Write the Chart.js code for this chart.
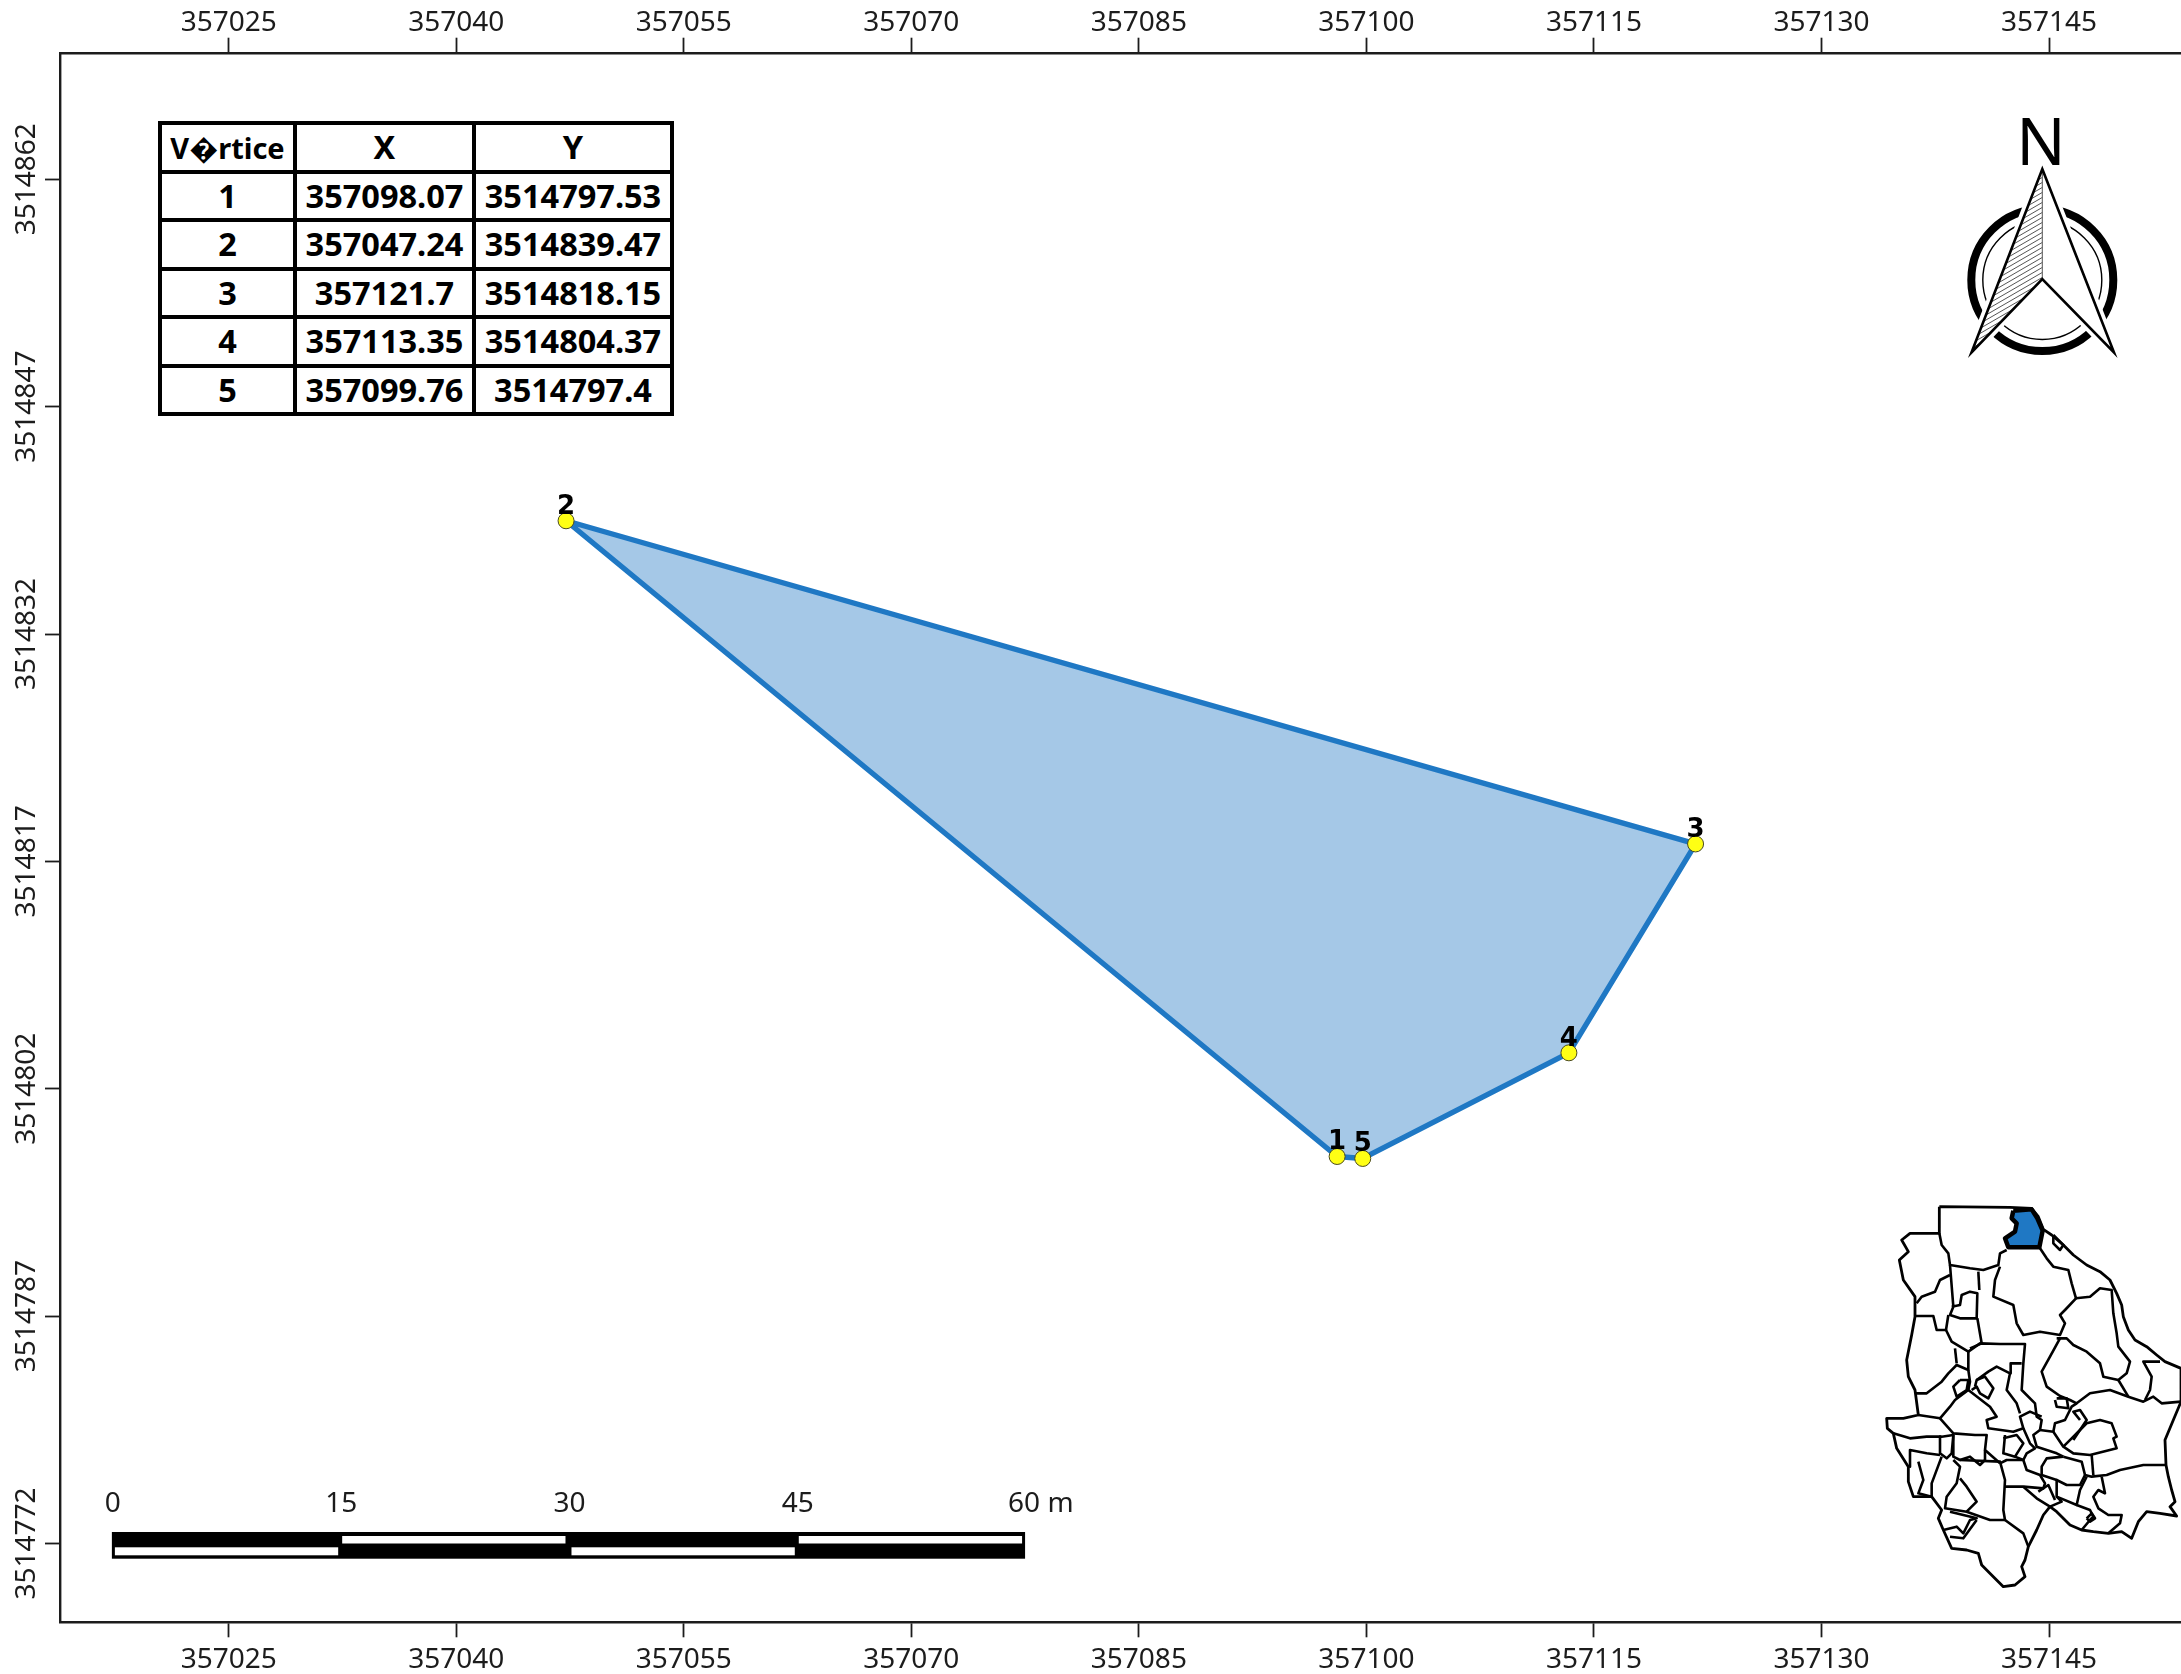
<!DOCTYPE html>
<html>
<head>
<meta charset="utf-8">
<title>Poligono</title>
<script src="https://cdn.jsdelivr.net/npm/chart.js@4/dist/chart.umd.min.js"></script>
<style>
  html, body { margin: 0; padding: 0; background: #fff; overflow: hidden; }
  #wrap { position: relative; width: 2181px; height: 1674px; }
  #mapa { position: absolute; left: 0; top: 0; }
  #inset { position: absolute; left: 1860px; top: 1190px; }
  #tabla {
    position: absolute; left: 158px; top: 121px; width: 512px; height: 291px;
    border-collapse: collapse; table-layout: fixed; background: #fff;
    font: 700 32.5px "Noto Sans", sans-serif; color: #000;
  }
  #tabla td {
    border: 4px solid #000; text-align: center; padding: 0; height: 48.5px;
    box-sizing: border-box; line-height: 1; white-space: nowrap;
  }
  #tabla .head { font-size: 29px; }
</style>
</head>
<body>
<div id="wrap">
  <canvas id="mapa" width="2181" height="1674"></canvas>
  <canvas id="inset" width="321" height="410"></canvas>
  <table id="tabla"></table>
</div>
<script>
// ================= DATOS =================
const tableHeader = ['V\uFFFDrtice', 'X', 'Y'];
const vertexIds = [1, 2, 3, 4, 5];
const vertexX = [357098.07, 357047.24, 357121.7, 357113.35, 357099.76];
const vertexY = [3514797.53, 3514839.47, 3514818.15, 3514804.37, 3514797.4];

const xTicks = [357025, 357040, 357055, 357070, 357085, 357100, 357115, 357130, 357145];
const yTicks = [3514772, 3514787, 3514802, 3514817, 3514832, 3514847, 3514862];
const scaleStops = [0, 15, 30, 45, 60];

const xMin = 357013.88, xMax = 357153.7;
const yMin = 3514766.8, yMax = 3514870.35;
const scaleOriginX = 357017.3;

// inset: municipios (pixel units of the inset picture, 963 x 1230)
const stateOutline = [[238,50],[450,52],[515,55],[535,80],[550,118],[575,135],[610,165],[640,195],[680,225],[720,245],[750,270],[770,310],[785,345],[790,380],[805,420],[825,450],[860,470],[890,495],[915,515],[963,535],[963,635],[940,690],[915,750],[918,825],[925,860],[935,900],[945,935],[930,950],[950,978],[900,970],[860,965],[835,995],[815,1045],[785,1025],[745,1030],[700,1025],[665,1020],[630,1005],[590,965],[570,950],[550,975],[530,1020],[505,1070],[495,1110],[485,1130],[495,1160],[465,1185],[430,1190],[400,1160],[365,1125],[355,1090],[320,1080],[275,1075],[250,1020],[235,985],[245,960],[215,920],[160,920],[145,875],[145,830],[110,775],[100,730],[82,715],[80,685],[130,685],[175,675],[165,600],[145,560],[140,510],[155,435],[165,380],[165,320],[130,270],[118,210],[145,185],[125,150],[150,130],[238,130],[238,50]];
const blueMunicipio = [[460,62],[515,58],[532,85],[548,122],[538,172],[500,172],[445,172],[435,145],[465,125],[470,100],[455,85],[460,62]];
const municipioLines = [
  [[238,130],[245,165],[265,190],[270,225],[330,235],[370,240],[415,225],[420,190],[440,180]],
  [[540,175],[560,205],[580,230],[625,240],[635,280],[648,325],[690,320],[720,295],[755,300],[760,370],[770,430],[775,470],[810,515],[800,550],[775,570],[730,560],[720,520],[680,485],[640,465],[620,445],[590,445]],
  [[648,325],[615,360],[600,375],[615,400],[600,435],[540,425],[490,435],[470,400],[460,345],[400,320],[405,270],[420,230]],
  [[270,225],[280,350],[270,375],[300,385],[350,385],[352,310],[330,305],[305,315],[300,345],[275,350]],
  [[355,245],[358,300]],
  [[352,385],[365,460],[330,475]],
  [[270,255],[240,270],[225,305],[185,320],[170,340]],
  [[168,378],[220,378],[230,420],[258,420],[265,375]],
  [[258,420],[275,455],[300,470],[325,485],[360,460],[420,462],[495,462],[490,520],[485,600],[525,640],[530,680],[545,690],[540,720]],
  [[600,445],[570,500],[545,545],[560,590],[600,618],[630,630],[650,640],[690,610],[750,600],[805,620],[850,635],[880,620],[905,640],[963,635]],
  [[775,570],[805,620]],
  [[900,515],[850,515],[875,560],[870,600],[855,630]],
  [[325,485],[325,540],[290,525],[265,550],[245,575],[200,610],[165,610]],
  [[285,475],[290,520]],
  [[300,570],[325,570],[320,600],[290,620],[280,590],[300,570]],
  [[325,540],[330,575],[325,600],[285,630],[270,650],[240,685],[175,675]],
  [[240,685],[280,730],[345,735],[380,735],[375,780],[420,820]],
  [[325,600],[390,650],[410,680],[380,690],[385,715],[460,725],[490,715],[480,680],[510,665],[545,680]],
  [[345,590],[350,570],[385,545],[410,530],[450,550],[440,600],[470,640],[480,670]],
  [[350,570],[375,560],[400,595],[385,625],[360,610],[350,590],[335,600]],
  [[450,550],[452,520],[485,520]],
  [[100,730],[150,745],[200,740],[245,740],[280,735]],
  [[240,740],[240,790],[260,805],[275,790],[280,735]],
  [[280,735],[280,800],[300,810],[330,800],[360,825],[375,810],[375,780]],
  [[240,795],[200,790],[150,780],[150,830]],
  [[175,815],[190,870],[175,910],[215,920]],
  [[245,800],[215,880],[215,920]],
  [[280,810],[300,830],[290,880],[260,920],[255,955],[320,965],[350,935],[320,890],[300,865]],
  [[300,810],[420,815],[435,870],[430,960],[435,990],[390,990],[320,965]],
  [[420,820],[440,810],[490,810],[500,840],[540,855],[555,880],[550,895],[490,890],[435,890]],
  [[490,810],[465,800],[430,790],[435,735]],
  [[430,745],[470,735],[490,760],[465,800]],
  [[490,715],[510,760],[525,775],[500,790],[490,810]],
  [[540,720],[520,735],[530,770],[590,790],[610,800]],
  [[540,720],[580,725],[610,770],[640,790],[690,795],[770,775],[760,745],[770,740],[755,700],[720,690],[680,700],[660,720],[635,745],[610,770]],
  [[580,725],[585,700],[615,690],[635,650],[650,640]],
  [[660,690],[640,665],[660,660],[680,690],[660,720],[640,750]],
  [[590,625],[620,625],[625,655],[590,650],[585,630]],
  [[610,800],[665,815],[675,855],[695,860],[740,855],[780,840],[850,825],[920,825]],
  [[695,795],[700,855]],
  [[610,800],[560,805],[545,830],[545,855]],
  [[675,855],[660,885],[620,885],[590,870],[545,855]],
  [[590,870],[590,920],[650,945],[660,900],[680,860]],
  [[725,860],[735,910],[715,900],[700,920],[715,955],[745,975],[785,975],[780,1000],[745,1030]],
  [[650,945],[690,960],[700,980],[690,990],[665,1020]],
  [[490,890],[530,925],[570,950],[605,935],[590,920]],
  [[535,905],[565,885],[585,930]],
  [[435,990],[490,1030],[505,1070]],
  [[250,1020],[290,1010],[310,1030],[330,990],[350,985],[270,965]],
  [[270,1040],[310,1045],[350,990]],
  [[680,985],[695,970],[705,985],[690,995],[680,985]],
  [[580,135],[610,165],[600,180],[580,160],[580,135]]
];

const fontName = '"Noto Sans", sans-serif';
const inkColor = '#1c1c1c';

// ================= TABLA =================
function buildTable() {
  const tabla = document.getElementById('tabla');
  const widths = [135, 179, 198];
  let html = '<colgroup>' + widths.map(w => `<col style="width:${w}px">`).join('') + '</colgroup>';
  html += '<tr>' + tableHeader.map((h, i) => `<td${i === 0 ? ' class="head"' : ''}>${h}</td>`).join('') + '</tr>';
  vertexIds.forEach((id, i) => {
    html += `<tr><td>${id}</td><td>${vertexX[i]}</td><td>${vertexY[i]}</td></tr>`;
  });
  tabla.innerHTML = html;
}
buildTable();

// ================= PLUGINS =================
// numbers over the yellow vertices
const vertexLabels = {
  id: 'vertexLabels',
  afterDatasetsDraw(chart) {
    const { ctx, scales } = chart;
    ctx.save();
    ctx.font = '700 26px "DejaVu Sans", sans-serif';
    ctx.fillStyle = '#000';
    ctx.textAlign = 'center';
    ctx.textBaseline = 'alphabetic';
    vertexIds.forEach((id, i) => {
      ctx.fillText(String(id), scales.x.getPixelForValue(vertexX[i]), scales.y.getPixelForValue(vertexY[i]) - 7);
    });
    ctx.restore();
  }
};

// scale bar
const scaleBar = {
  id: 'scaleBar',
  afterDraw(chart) {
    const { ctx, scales } = chart;
    const top = 1532, bottom = 1558.7, mid = 1545.3;
    const pxPerMetre = 15.22; // the bar is drawn a bit longer than the axis scale
    const x0 = scales.x.getPixelForValue(scaleOriginX);
    const px = scaleStops.map(s => x0 + s * pxPerMetre);
    ctx.save();
    ctx.fillStyle = '#000';
    ctx.fillRect(px[0], top, px[4] - px[0], bottom - top);
    ctx.fillStyle = '#fff';
    for (let i = 0; i < 4; i++) {
      if (i % 2 === 0) ctx.fillRect(px[i] + 3, mid + 2, px[i + 1] - px[i] - 5, 8);
      else ctx.fillRect(px[i] + 2, top + 4, px[i + 1] - px[i] - 5, 7.5);
    }
    ctx.fillStyle = inkColor;
    ctx.font = '28px ' + fontName;
    ctx.textBaseline = 'alphabetic';
    scaleStops.forEach((s, i) => {
      if (i === 4) {
        ctx.textAlign = 'left';
        ctx.fillText(s + ' m', px[i] - 17, 1511.5);
      } else {
        ctx.textAlign = 'center';
        ctx.fillText(String(s), px[i] + 1, 1511.5);
      }
    });
    ctx.restore();
  }
};

// north arrow
const northArrow = {
  id: 'northArrow',
  afterDraw(chart) {
    const { ctx } = chart;
    const cx = 2042.3, cy = 280;
    const apex = [cx, 169], left = [1971.5, 352.5], right = [2114, 352.5], notch = [cx, 279];
    const arrowPath = () => {
      ctx.beginPath();
      ctx.moveTo(apex[0], apex[1]);
      ctx.lineTo(right[0], right[1]);
      ctx.lineTo(notch[0], notch[1]);
      ctx.lineTo(left[0], left[1]);
      ctx.closePath();
    };
    ctx.save();
    ctx.strokeStyle = '#000';
    ctx.lineWidth = 8;
    ctx.beginPath();
    ctx.arc(cx, cy, 71, 0, Math.PI * 2);
    ctx.stroke();
    ctx.lineWidth = 1.4;
    ctx.beginPath();
    ctx.arc(cx, cy, 59.5, 0, Math.PI * 2);
    ctx.stroke();
    // white halo breaks the rings around the arrow
    arrowPath();
    ctx.fillStyle = '#fff';
    ctx.strokeStyle = '#fff';
    ctx.lineJoin = 'miter';
    ctx.lineWidth = 10;
    ctx.fill();
    ctx.stroke();
    // hatched left half
    ctx.save();
    ctx.beginPath();
    ctx.moveTo(apex[0], apex[1]);
    ctx.lineTo(notch[0], notch[1]);
    ctx.lineTo(left[0], left[1]);
    ctx.closePath();
    ctx.clip();
    ctx.strokeStyle = '#555';
    ctx.lineWidth = 1;
    ctx.beginPath();
    for (let y = 160; y < 460; y += 5) {
      ctx.moveTo(1960, y);
      ctx.lineTo(2050, y - 52);
    }
    ctx.stroke();
    ctx.restore();
    ctx.strokeStyle = '#555';
    ctx.lineWidth = 1;
    ctx.beginPath();
    ctx.moveTo(apex[0], apex[1]);
    ctx.lineTo(notch[0], notch[1]);
    ctx.stroke();
    ctx.strokeStyle = '#000';
    ctx.lineWidth = 2.6;
    ctx.lineJoin = 'miter';
    ctx.miterLimit = 20;
    arrowPath();
    ctx.stroke();
    ctx.fillStyle = '#000';
    ctx.font = '65px ' + fontName;
    ctx.textAlign = 'center';
    ctx.textBaseline = 'alphabetic';
    ctx.fillText('N', 2041, 164.7);
    ctx.restore();
  }
};

// ================= GRAFICO PRINCIPAL =================
function axisStyle() {
  return {
    border: { display: true, color: inkColor, width: 2.4 },
    grid: { display: true, drawOnChartArea: false, drawTicks: true, tickLength: 15, tickWidth: 1.8, tickColor: inkColor }
  };
}

function xAxis(position, fixedHeight, labelPadding) {
  return {
    type: 'linear',
    position: position,
    min: xMin,
    max: xMax,
    ...axisStyle(),
    ticks: {
      autoSkip: false, maxRotation: 0, minRotation: 0, padding: labelPadding,
      color: inkColor, font: { family: fontName, size: 28 },
      callback: v => String(v)
    },
    afterBuildTicks: scale => { scale.ticks = xTicks.map(v => ({ value: v })); },
    afterFit: scale => { scale.height = fixedHeight; }
  };
}

new Chart(document.getElementById('mapa'), {
  type: 'scatter',
  data: {
    datasets: [
      {
        label: 'Vertices',
        data: vertexX.map((x, i) => ({ x: x, y: vertexY[i] })),
        pointRadius: 8,
        pointBackgroundColor: '#ffff14',
        pointBorderColor: '#4a4a20',
        pointBorderWidth: 1,
        showLine: false
      },
      {
        label: 'Poligono',
        data: vertexX.concat(vertexX[0]).map((x, i) => ({ x: x, y: vertexY.concat(vertexY[0])[i] })),
        showLine: true,
        tension: 0,
        borderColor: '#1f78c4',
        borderWidth: 5.4,
        borderJoinStyle: 'round',
        backgroundColor: '#a5c8e7',
        fill: 'shape',
        pointRadius: 0
      }
    ]
  },
  plugins: [vertexLabels, scaleBar, northArrow],
  options: {
    responsive: false,
    animation: false,
    layout: { padding: 0, autoPadding: false },
    plugins: { legend: { display: false }, tooltip: { enabled: false } },
    scales: {
      x: xAxis('bottom', 51.7, 6),
      xTop: xAxis('top', 52.7, -2),
      y: {
        type: 'linear',
        position: 'left',
        min: yMin,
        max: yMax,
        ...axisStyle(),
        ticks: {
          autoSkip: false, minRotation: 90, maxRotation: 90, crossAlign: 'center', padding: -38,
          color: inkColor, font: { family: fontName, size: 28 },
          callback: v => String(v)
        },
        afterBuildTicks: scale => { scale.ticks = yTicks.map(v => ({ value: v })); },
        afterFit: scale => { scale.width = 60; }
      }
    }
  }
});

// ================= MAPA PEQUENO =================
function mapLine(points, width, fillColor) {
  return {
    data: points.map(p => ({ x: p[0], y: p[1] })),
    showLine: true,
    tension: 0,
    borderColor: '#000',
    borderWidth: width,
    borderJoinStyle: 'round',
    backgroundColor: fillColor || 'transparent',
    fill: fillColor ? 'shape' : false,
    pointRadius: 0
  };
}

new Chart(document.getElementById('inset'), {
  type: 'scatter',
  data: {
    datasets: [mapLine(blueMunicipio, 4.5, '#1f78c4'), mapLine(stateOutline, 2.8)]
      .concat(municipioLines.map(l => mapLine(l, 2.6)))
  },
  options: {
    responsive: false,
    animation: false,
    layout: { padding: 0, autoPadding: false },
    plugins: { legend: { display: false }, tooltip: { enabled: false } },
    scales: {
      x: { type: 'linear', min: 0, max: 963, display: false },
      y: { type: 'linear', min: 0, max: 1230, reverse: true, display: false }
    }
  }
});
</script>
</body>
</html>
